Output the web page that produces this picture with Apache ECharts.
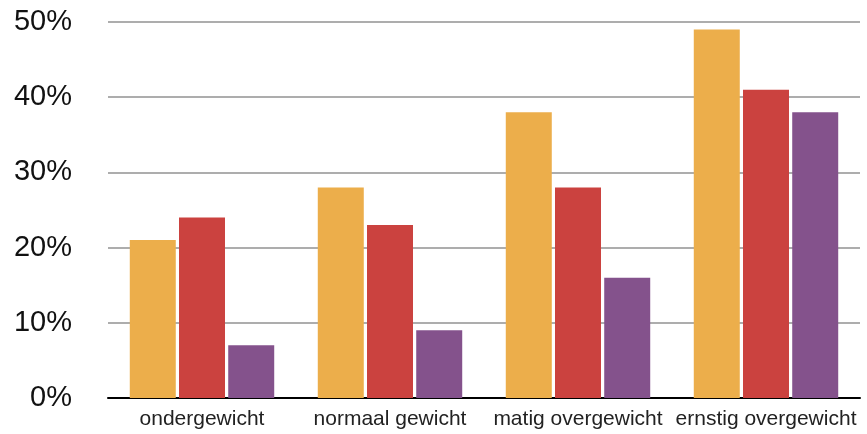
<!DOCTYPE html>
<html>
<head>
<meta charset="utf-8">
<script src="https://cdn.jsdelivr.net/npm/echarts@6/dist/echarts.min.js"></script>
<style>
  html, body { margin: 0; padding: 0; background: #fff; }
  #chart { width: 867px; height: 434px; }
</style>
</head>
<body>
<div id="chart"></div>
<script>
const categories = ['ondergewicht', 'normaal gewicht', 'matig overgewicht', 'ernstig overgewicht']
const seriesA = [21, 28, 38, 49]
const seriesB = [24, 23, 28, 41]
const seriesC = [7, 9, 16, 38]
const yTicks = [0, 10, 20, 30, 40, 50]

const myChart = echarts.init(document.getElementById('chart'))

const bar = (data, color) => ({
  type: 'bar',
  data: data,
  barWidth: 46,
  barGap: '7%',
  itemStyle: { color: color },
})

const option = {
  animation: false,
  textStyle: { fontFamily: 'Helvetica, "Liberation Sans", Arial, sans-serif' },
  grid: { left: 108, right: 7, top: 22, bottom: 36 },
  xAxis: {
    type: 'category',
    data: categories,
    axisTick: { show: false },
    axisLine: { lineStyle: { color: '#000', width: 2 } },
    axisLabel: { color: '#222', fontSize: 21, margin: 11, interval: 0 },
  },
  yAxis: {
    type: 'value',
    min: yTicks[0],
    max: yTicks[yTicks.length - 1],
    interval: 10,
    axisLine: { show: false },
    axisTick: { show: false },
    axisLabel: { color: '#111', fontSize: 29, margin: 36, formatter: '{value}%' },
    splitLine: { lineStyle: { color: '#ADADAD', width: 2 } },
  },
  series: [
    bar(seriesA, '#ECAE4B'),
    bar(seriesB, '#CB423F'),
    bar(seriesC, '#84528C'),
  ],
}
myChart.setOption(option)
</script>
</body>
</html>
